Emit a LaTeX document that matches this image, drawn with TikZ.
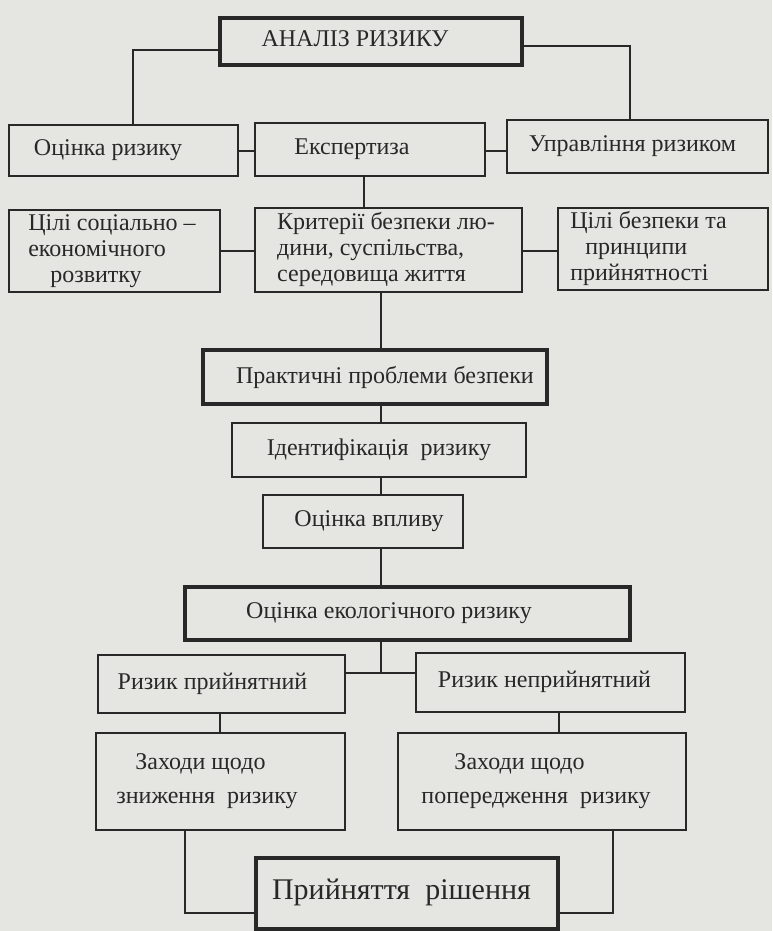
\documentclass[tikz,border=0pt]{standalone}
\usepackage{fontspec}
\setmainfont{Liberation Serif}
\definecolor{paper}{RGB}{229,229,225}
\definecolor{ink}{RGB}{40,40,40}
\newcommand{\tx}[2]{\begin{tabular}{@{}l@{}}#2\end{tabular}\hspace*{#1}}
\begin{document}
\begin{tikzpicture}[x=1pt,y=-1pt,
  bx/.style={draw=ink, line width=1.6pt, fill=paper, text=ink, inner sep=0pt, font=\fontsize{24}{26}\selectfont},
  tk/.style={bx, line width=4pt},
  ln/.style={draw=ink, line width=1.4pt}]
\fill[paper] (0,0) rectangle (772,931);
\useasboundingbox (0,0) rectangle (772,931);
% nodes
\node[tk, minimum width=302pt, minimum height=47pt] (top) at (371,41.5) {\tx{32pt}{АНАЛІЗ РИЗИКУ}};
\node[bx, minimum width=229pt, minimum height=51pt] (or) at (123.5,150.5) {\tx{31pt}{Оцінка ризику}};
\node[bx, minimum width=230pt, minimum height=53pt] (ek) at (370,149.5) {\tx{36pt}{Експертиза}};
\node[bx, minimum width=261pt, minimum height=53pt] (ur) at (637.5,146.5) {\tx{10pt}{Управління ризиком}};
\node[bx, minimum width=211pt, minimum height=82pt] (cs) at (114.5,251) {\tx{5pt}{Цілі соціально –\\економічного\\\hspace*{22pt}розвитку}};
\node[bx, minimum width=267pt, minimum height=84pt] (kr) at (388.5,250) {\tx{5pt}{Критерії безпеки лю-\\дини, суспільства,\\середовища життя}};
\node[bx, minimum width=210pt, minimum height=82pt] (cb) at (663,249) {\tx{29pt}{Цілі безпеки та\\\hspace*{15pt}принципи\\прийнятності}};
\node[tk, minimum width=344pt, minimum height=54pt] (pp) at (375,377) {\hspace*{20pt}Практичні проблеми безпеки};
\node[bx, minimum width=294pt, minimum height=54pt] (id) at (379,450) {Ідентифікація\ \ ризику};
\node[bx, minimum width=200pt, minimum height=53pt] (ov) at (363,521.5) {\hspace*{12pt}Оцінка впливу};
\node[tk, minimum width=445pt, minimum height=53pt] (oe) at (407.5,613.5) {\tx{37pt}{Оцінка екологічного ризику}};
\node[bx, minimum width=247pt, minimum height=58pt] (rp) at (221.5,684) {\tx{18pt}{Ризик прийнятний}};
\node[bx, minimum width=269pt, minimum height=59pt] (rn) at (550.5,682.5) {\tx{12pt}{Ризик неприйнятний}};
\node[bx, minimum width=249pt, minimum height=97pt] (zz) at (220.5,781.5) {\tx{27pt}{\hspace*{19pt}Заходи щодо\\[8pt]зниження\ \ ризику}};
\node[bx, minimum width=288pt, minimum height=97pt] (zp) at (542,781.5) {\tx{12pt}{\hspace*{33pt}Заходи щодо\\[8pt]попередження\ \ ризику}};
\node[tk, minimum width=302pt, minimum height=71pt, font=\fontsize{30}{32}\selectfont] (pr) at (407,893.5) {\tx{11pt}{Прийняття\ \ рішення}};
% connectors
\coordinate (tl) at (133,50);
\coordinate (tr) at (630,46);
\draw[ln] (top.west |- tl) -| (or.north -| tl);
\draw[ln] (top.east |- tr) -| (ur.north -| tr);
\coordinate (r2) at (0,151);
\draw[ln] (or.east |- r2) -- (ek.west |- r2);
\draw[ln] (ek.east |- r2) -- (ur.west |- r2);
\coordinate (ekx) at (364,0);
\draw[ln] (ek.south -| ekx) -- (kr.north -| ekx);
\coordinate (r3) at (0,251);
\draw[ln] (cs.east |- r3) -- (kr.west |- r3);
\draw[ln] (kr.east |- r3) -- (cb.west |- r3);
\coordinate (mx) at (381,0);
\draw[ln] (kr.south -| mx) -- (pp.north -| mx);
\draw[ln] (pp.south -| mx) -- (id.north -| mx);
\draw[ln] (id.south -| mx) -- (ov.north -| mx);
\draw[ln] (ov.south -| mx) -- (oe.north -| mx);
\coordinate (j) at (381,673);
\draw[ln] (oe.south -| j) -- (j);
\draw[ln] (rp.east |- j) -- (rn.west |- j);
\coordinate (lx) at (220,0);
\coordinate (rx) at (559,0);
\draw[ln] (rp.south -| lx) -- (zz.north -| lx);
\draw[ln] (rn.south -| rx) -- (zp.north -| rx);
\coordinate (bl) at (185,913);
\coordinate (br) at (613,913);
\draw[ln] (zz.south -| bl) -- (bl) -- (pr.west |- bl);
\draw[ln] (zp.south -| br) -- (br) -- (pr.east |- br);
\end{tikzpicture}
\end{document}
